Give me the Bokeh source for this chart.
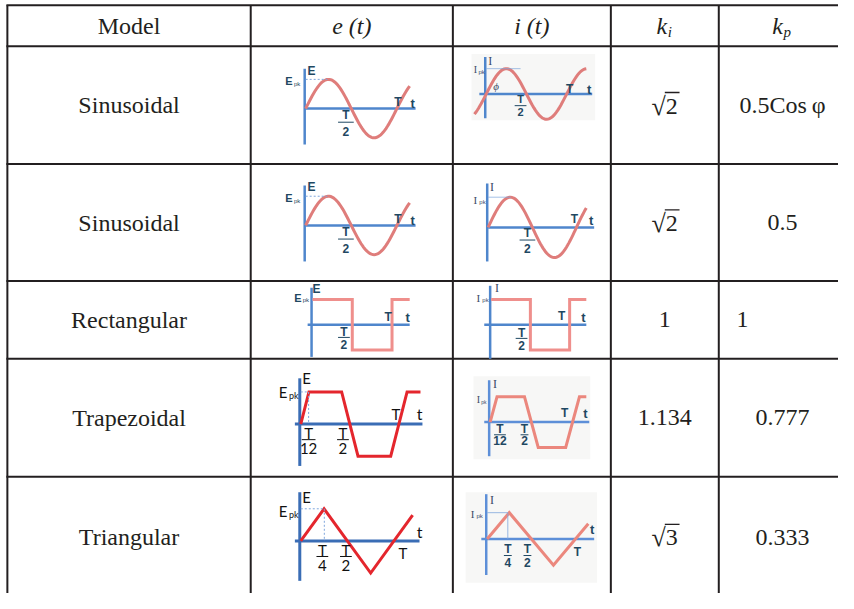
import numpy as np
from bokeh.plotting import figure
from bokeh.models import Range1d
from bokeh.core.properties import value
from bokeh.embed import file_html
from bokeh.resources import INLINE

# ---------------- table content ----------------
headers = ["Model", "e (t)", "i (t)", "k", "k"]
header_subs = ["", "", "", "i", "p"]
models = ["Sinusoidal", "Sinusoidal", "Rectangular", "Trapezoidal", "Triangular"]
ki_radicand = ["2", "2", "", "", "3"]
ki_plain = ["", "", "1", "1.134", ""]
kp_text = ["0.5Cos\u2009\u03c6", "0.5", "1", "0.777", "0.333"]
kp_left = [False, False, True, False, False]

# waveform shapes (time in periods, value in peak units)
SQ_T = [0.0, 0.5, 0.5, 1.0, 1.0, 1.5]
SQ_V = [1.0, 1.0, -1.0, -1.0, 1.0, 1.0]
TRAP_T = [0.0, 1 / 12, 5 / 12, 7 / 12, 11 / 12, 13 / 12, 1.5]
TRAP_V = [0.0, 1.0, 1.0, -1.0, -1.0, 1.0, 1.0]
TRI_T = [0.0, 0.25, 0.75, 1.25]
TRI_V = [0.0, 1.0, -1.0, 1.0]

# ---------------- layout ----------------
col_edges = [7, 255, 461, 622, 732, 858]
row_edges = [5, 47, 168, 288, 368, 489, 612]

LINE = "#231f20"
SERIF = value("Liberation Serif")
SANS = value("Liberation Sans")
LATO = value("Lato")

p = figure(width=838, height=593, x_range=Range1d(0, 854), y_range=Range1d(609, 0),
           output_backend="svg", toolbar_location=None,
           x_axis_location=None, y_axis_location=None,
           min_border=0, outline_line_color=None)
p.grid.visible = False
p.background_fill_color = "white"
p.border_fill_color = "white"


def txt(x, y, s, size, color="#1a1a1a", font=SERIF, style="normal", align="center", base="middle"):
    p.text(x=[x], y=[y], text=[s], text_font=font, text_font_size=f"{size}px",
           text_font_style=style, text_color=color, text_align=align, text_baseline=base)


def seg(x0, y0, x1, y1, color, width=1.0, dash="solid", alpha=1.0):
    p.segment(x0=[x0], y0=[y0], x1=[x1], y1=[y1], line_color=color, line_width=width,
              line_dash=dash, line_alpha=alpha)


# ---------------- grid lines ----------------
for c in col_edges[:-1]:
    seg(c, row_edges[0], c, row_edges[-1], LINE, 2)
for r in row_edges[:-1]:
    seg(col_edges[0] - 1, r, col_edges[-1] + 10, r, LINE, 2)

cx = [(col_edges[i] + col_edges[i + 1]) / 2 for i in range(5)]
ry = [(row_edges[i] + row_edges[i + 1]) / 2 for i in range(6)]
ry[5] = 551

# header
for i, h in enumerate(headers):
    style = "normal" if i == 0 else "italic"
    if header_subs[i]:
        txt(cx[i] - 3, ry[0], h, 24, LINE, SERIF, "italic")
        txt(cx[i] + 3, ry[0] + 6, header_subs[i], 15, LINE, SERIF, "italic", align="left")
    else:
        txt(cx[i], ry[0], h, 24, LINE, SERIF, style)

# body
for r in range(5):
    y = ry[r + 1]
    txt(cx[0], y, models[r], 24, LINE)
    if ki_radicand[r]:
        txt(cx[3] + 1, y + 1, "\u221a", 26, LINE, align="right")
        txt(cx[3] + 1, y + 1, ki_radicand[r], 24, LINE, align="left")
        seg(cx[3] + 0, y - 13, cx[3] + 15, y - 13, LINE, 1.3)
    else:
        txt(cx[3], y, ki_plain[r], 24, LINE)
    if kp_left[r]:
        txt(col_edges[4] + 18, y, kp_text[r], 24, LINE, align="left")
    else:
        txt(cx[4] + 2, y, kp_text[r], 24, LINE)


# ---------------- mini waveform diagrams ----------------
def wave_pts(kind, ox, oy, T, A, t0, t1, n=80):
    if kind == "sin":
        t = np.linspace(t0, t1, n)
        v = np.sin(2 * np.pi * t / T)
        return list(ox + t), list(oy - A * v)
    tt, vv = {"sq": (SQ_T, SQ_V), "trap": (TRAP_T, TRAP_V), "tri": (TRI_T, TRI_V)}[kind]
    xs, ys = [], []
    for a, b in zip(tt, vv):
        if a * T <= t1:
            xs.append(ox + a * T)
            ys.append(oy - A * b)
    tt_arr = np.array(tt) * T
    idx = np.searchsorted(tt_arr, t1)
    if idx < len(tt_arr) and xs[-1] < ox + t1:
        va = np.interp(t1, tt_arr[idx - 1:idx + 1], np.array(vv)[idx - 1:idx + 1])
        xs.append(ox + t1)
        ys.append(oy - A * va)
    return xs, ys


SOFT_RED = "#df7d7b"
SOFT_BLUE = "#4f86cc"
cells = [
    dict(kind="sin", ox=311, oy=111, T=93, A=30, t0=0, t1=106, vax=(70, 148), hax=(311, 423),
         red=SOFT_RED, blue=SOFT_BLUE, lw=3, alw=2.5, bg=None),
    dict(kind="sin", ox=495, oy=96, T=82, A=26, t0=-12, t1=102, vax=(58, 121), hax=(488, 603),
         red=SOFT_RED, blue=SOFT_BLUE, lw=3, alw=2.5, bg=(480, 606, 55, 123)),
    dict(kind="sin", ox=311, oy=231, T=93, A=30, t0=0, t1=106, vax=(190, 268), hax=(311, 423),
         red=SOFT_RED, blue=SOFT_BLUE, lw=3, alw=2.5, bg=None),
    dict(kind="sin", ox=497, oy=233, T=90, A=31, t0=0, t1=100, vax=(188, 268), hax=(497, 605),
         red=SOFT_RED, blue=SOFT_BLUE, lw=3, alw=2.5, bg=None),
    dict(kind="sq", ox=318, oy=333, T=81, A=26, t0=0, t1=99, vax=(295, 366), hax=(313, 417),
         red="#ef8f8c", blue=SOFT_BLUE, lw=3, alw=2.5, bg=None),
    dict(kind="sq", ox=500, oy=333, T=80, A=26, t0=0, t1=97, vax=(293, 368), hax=(493, 597),
         red="#ef8f8c", blue=SOFT_BLUE, lw=3, alw=2.5, bg=None),
    dict(kind="trap", ox=306, oy=435, T=100, A=33, t0=0, t1=122, vax=(388, 478), hax=(300, 430),
         red="#e4262d", blue="#3a6db5", lw=3, alw=3, bg=None),
    dict(kind="trap", ox=499, oy=433, T=84, A=26, t0=0, t1=98, vax=(390, 468), hax=(493, 600),
         red="#eb877d", blue="#5d8fd8", lw=3, alw=2.5, bg=(482, 601, 386, 471)),
    dict(kind="tri", ox=306, oy=555, T=95, A=33, t0=0, t1=114, vax=(505, 596), hax=(300, 427),
         red="#e4262d", blue="#3a6db5", lw=3, alw=3, bg=None),
    dict(kind="tri", ox=496, oy=553, T=90, A=27, t0=0, t1=103, vax=(507, 590), hax=(490, 605),
         red="#eb877d", blue="#5d8fd8", lw=3, alw=2.5, bg=(474, 608, 505, 598)),
]

for c in cells:
    if c["bg"]:
        l, r_, t, b = c["bg"]
        p.quad(left=[l], right=[r_], top=[t], bottom=[b], fill_color="#f7f7f6", line_color=None)
    seg(c["ox"] - 1, c["vax"][0], c["ox"] - 1, c["vax"][1], c["blue"], c["alw"])
    seg(c["hax"][0], c["oy"], c["hax"][1], c["oy"], c["blue"], c["alw"])
    xs, ys = wave_pts(c["kind"], c["ox"], c["oy"], c["T"], c["A"], c["t0"], c["t1"])
    p.line(xs, ys, line_color=c["red"], line_width=c["lw"], line_join="miter")

DASH = "#7fa6dc"
seg(311, 81, 333, 81, DASH, 1, "2 2")
seg(311, 201, 333, 201, DASH, 1, "2 2")
seg(495, 70, 530, 70, DASH, 1, "solid", 0.7)
seg(497, 202, 520, 202, DASH, 1, "solid", 0.7)
seg(306, 402, 314, 402, DASH, 1, "2 2")
seg(314, 402, 314, 435, DASH, 1, "2 2")
seg(306, 522, 330, 522, DASH, 1, "2 2")
seg(330, 522, 330, 555, DASH, 1, "2 2")
seg(496, 526, 517, 526, DASH, 1, "solid", 0.8)
seg(517, 526, 517, 553, DASH, 1, "solid", 0.8)

TEAL = "#1f4862"
NAVY = "#3a4a66"
BLK = "#111111"


def frac(x, yT, y2, ybar, num, den, size, color, font, half, style="bold"):
    txt(x, yT, num, size, color, font, style)
    txt(x, y2, den, size, color, font, style)
    seg(x - half, ybar, x + half, ybar, color, 1)


# rows 1-2 e(t)
for dy in (0, 120):
    txt(317, 72 + dy, "E", 12, TEAL, SANS, "bold")
    txt(294, 83 + dy, "E", 11, TEAL, SANS, "bold")
    txt(299, 86 + dy, "pk", 6, TEAL, SANS, "normal", align="left")
    frac(352, 118 + dy, 135 + dy, 125 + dy, "T", "2", 12, TEAL, SANS, 8)
    txt(405, 104 + dy, "T", 12, TEAL, SANS, "bold")
    txt(420, 106 + dy, "t", 13, TEAL, SANS, "bold")

# row 1 i(t)
txt(499, 62, "I", 12, NAVY, SERIF, "normal")
txt(484, 71, "I", 10, NAVY, SERIF, "normal")
txt(487, 73, "pk", 6, NAVY, SANS, "normal", align="left")
txt(505, 88, "\u03d5", 11, NAVY, SERIF, "italic")
frac(530, 101, 115, 108, "T", "2", 11, TEAL, SANS, 6)
txt(580, 91, "T", 12, TEAL, SANS, "bold")
txt(600, 91, "t", 13, TEAL, SANS, "bold")

# row 2 i(t)
txt(501, 192, "I", 12, NAVY, SERIF, "normal")
txt(484, 205, "I", 11, NAVY, SERIF, "normal")
txt(488, 207, "pk", 6, NAVY, SANS, "normal", align="left")
frac(537, 239, 255, 246, "T", "2", 12, TEAL, SANS, 8)
txt(585, 224, "T", 12, TEAL, SANS, "bold")
txt(602, 226, "t", 13, TEAL, SANS, "bold")

# row 3 e(t)
txt(322, 296, "E", 12, TEAL, SANS, "bold")
txt(303, 306, "E", 11, TEAL, SANS, "bold")
txt(308, 308, "pk", 6, TEAL, SANS, "normal", align="left")
frac(350, 340, 353, 346, "T", "2", 12, TEAL, SANS, 6)
txt(395, 325, "T", 12, TEAL, SANS, "bold")
txt(415, 326, "t", 13, TEAL, SANS, "bold")

# row 3 i(t)
txt(506, 295, "I", 12, NAVY, SERIF, "normal")
txt(487, 306, "I", 11, NAVY, SERIF, "normal")
txt(491, 308, "pk", 6, NAVY, SANS, "normal", align="left")
frac(531, 341, 354, 347, "T", "2", 12, TEAL, SANS, 6)
txt(572, 324, "T", 12, TEAL, SANS, "bold")
txt(594, 326, "t", 13, TEAL, SANS, "bold")

# row 4 e(t)
txt(312, 388, "E", 15, BLK, LATO, "normal")
txt(288, 402, "E", 15, BLK, LATO, "normal")
txt(294, 406, "pk", 9, BLK, LATO, "normal", align="left")
frac(314, 444, 460, 451, "T", "12", 15, BLK, LATO, 7, "normal")
frac(349, 444, 460, 451, "T", "2", 15, BLK, LATO, 6, "normal")
txt(403, 425, "T", 15, BLK, LATO, "normal")
txt(427, 424, "t", 16, BLK, LATO, "normal")

# row 4 i(t)
txt(504, 394, "I", 12, NAVY, SERIF, "normal")
txt(487, 410, "I", 10, NAVY, SERIF, "normal")
txt(490, 412, "pk", 5, NAVY, SANS, "normal", align="left")
frac(509, 440, 452, 446, "T", "12", 12, TEAL, SANS, 6, "bold")
frac(534, 440, 452, 446, "T", "2", 12, TEAL, SANS, 4, "bold")
txt(575, 424, "T", 12, TEAL, SANS, "bold")
txt(596, 424, "t", 13, TEAL, SANS, "bold")

# row 5 e(t)
txt(312, 510, "E", 15, BLK, LATO, "normal")
txt(288, 524, "E", 15, BLK, LATO, "normal")
txt(294, 528, "pk", 9, BLK, LATO, "normal", align="left")
frac(328, 564, 580, 571, "T", "4", 15, BLK, LATO, 6, "normal")
frac(352, 564, 580, 571, "T", "2", 15, BLK, LATO, 6, "normal")
txt(410, 567, "T", 15, BLK, LATO, "normal")
txt(427, 545, "t", 16, BLK, LATO, "normal")

# row 5 i(t)
txt(501, 513, "I", 12, NAVY, SERIF, "normal")
txt(481, 527, "I", 11, NAVY, SERIF, "normal")
txt(485, 529, "pk", 6, NAVY, SANS, "normal", align="left")
frac(517, 563, 577, 570, "T", "4", 12, TEAL, SANS, 4, "bold")
frac(537, 563, 577, 570, "T", "2", 12, TEAL, SANS, 4, "bold")
txt(588, 566, "T", 12, TEAL, SANS, "bold")
txt(603, 543, "t", 13, TEAL, SANS, "bold")

open("out.html", "w").write(file_html(p, INLINE))
